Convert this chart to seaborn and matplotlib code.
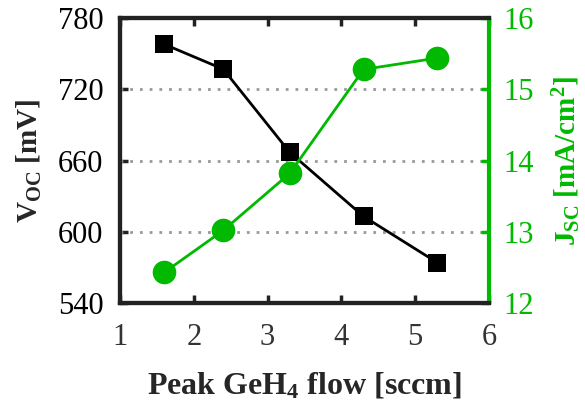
import matplotlib
matplotlib.use("Agg")
import matplotlib.pyplot as plt
import seaborn as sns
import pandas as pd

# GeH4 peak flow (sccm) and measured cell parameters
flow = [1.6, 2.4, 3.3, 4.3, 5.3]
voc = [758, 737, 667, 613, 574]          # mV
jsc = [12.43, 13.02, 13.82, 15.28, 15.44]  # mA/cm^2

x_ticks = [1, 2, 3, 4, 5, 6]
voc_ticks = [540, 600, 660, 720, 780]
jsc_ticks = [12, 13, 14, 15, 16]

GREEN = "#00b900"
DARK = "#222222"

sns.set_theme(style="white")
plt.rcParams["font.family"] = ["Liberation Serif", "DejaVu Serif"]
plt.rcParams["mathtext.fontset"] = "custom"
plt.rcParams["mathtext.rm"] = "Liberation Serif"
plt.rcParams["mathtext.bf"] = "Liberation Serif:bold"
plt.rcParams["mathtext.it"] = "Liberation Serif:italic"

df = pd.DataFrame({"flow": flow, "voc": voc, "jsc": jsc})

fig = plt.figure(figsize=(5.85, 4.03), dpi=100)
ax = fig.add_axes([0.205, 0.248, 0.631, 0.707])
ax2 = ax.twinx()

sns.lineplot(data=df, x="flow", y="voc", ax=ax, color="black", lw=2,
             marker="s", markersize=13, markeredgewidth=0, zorder=3)
sns.lineplot(data=df, x="flow", y="jsc", ax=ax2, color=GREEN, lw=2,
             marker="o", markersize=17, markeredgewidth=0, zorder=3)

ax.set_xlim(1, 6)
ax.set_ylim(540, 780)
ax2.set_ylim(12, 16)
ax.set_xticks(x_ticks)
ax.set_yticks(voc_ticks)
ax2.set_yticks(jsc_ticks)

for y in voc_ticks[1:-1]:
    ax.axhline(y, color="#999999", lw=2, ls=(0, (1, 2.5)), zorder=1)

ax.tick_params(axis="x", direction="in", top=True, bottom=True, length=6,
               width=2.5, color=DARK, labelsize=22, labelcolor="#333333", pad=14)
ax.tick_params(axis="y", direction="in", left=True, length=6, width=2.5,
               color=DARK, labelsize=22, labelcolor="black", pad=12)
ax2.tick_params(axis="y", direction="in", right=True, length=6, width=2.5,
                color=GREEN, labelsize=22, labelcolor=GREEN, pad=10)

for a in (ax, ax2):
    for s in a.spines.values():
        s.set_linewidth(3)
        s.set_color(DARK)
ax2.spines["right"].set_color(GREEN)
ax.spines["right"].set_visible(False)

ax.set_xlabel(r"Peak GeH$_\mathbf{4}$ flow [sccm]", fontsize=23,
              fontweight="bold", labelpad=14)
ax.set_ylabel(r"V$_\mathbf{OC}$ [mV]", fontsize=21, fontweight="bold",
              labelpad=10)
ax2.set_ylabel(r"J$_\mathbf{SC}$ [mA/cm$^\mathbf{2}$]", fontsize=21,
               fontweight="bold", color=GREEN, labelpad=12)

fig.savefig("out.png", dpi=100)
